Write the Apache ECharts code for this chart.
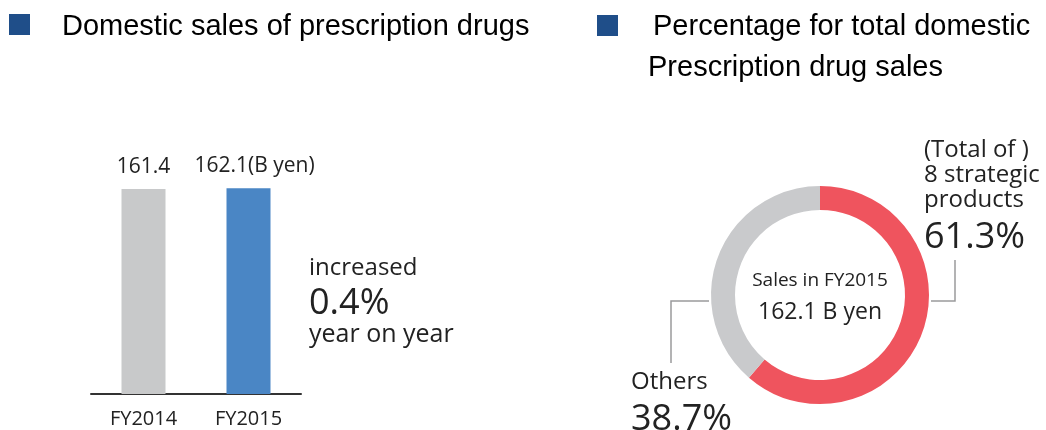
<!DOCTYPE html>
<html>
<head>
<meta charset="utf-8">
<script src="https://cdn.jsdelivr.net/npm/echarts@6/dist/echarts.min.js"></script>
<style>
  html, body {margin: 0; padding: 0; background: #fff;}
  #chart {width: 1046px; height: 430px;}
</style>
</head>
<body>
<div id="chart"></div>
<script>
// bar chart data
const years = ["FY2014", "FY2015"];
const sales = [161.4, 162.1];
const barColors = ["#c8c9ca", "#4a86c5"];
const salesUnit = "(B yen)";

// donut data
const shareNames = ["8 strategic products", "Others"];
const shares = [61.3, 38.7];
const shareColors = ["#ef545e", "#c9cacc"];

const headerFont = "Liberation Sans, Arial, sans-serif";
const bodyFont = "Open Sans, sans-serif";
const textColor = "#222";
const leaderColor = "#9a9a9c";

const growth = ((sales[1] - sales[0]) / sales[0] * 100).toFixed(1);

const pieCenter = [820, 295];
const pieRadius = [85, 109];

const chart = echarts.init(document.getElementById("chart"));

const option = {
  animation: false,
  grid: {left: 91, width: 210, bottom: 36, top: 140},
  xAxis: {
    type: "category",
    data: years,
    axisTick: {show: false},
    axisLine: {lineStyle: {color: "#333", width: 2}},
    axisLabel: {color: textColor, fontFamily: bodyFont, fontSize: 20, margin: 15},
  },
  yAxis: {type: "value", min: 0, max: 200, show: false},
  series: [
    {
      type: "bar",
      barWidth: 44,
      data: sales.map((v, i) => ({value: v, itemStyle: {color: barColors[i]}})),
      label: {
        show: true,
        position: "top",
        distance: 12,
        color: textColor,
        fontFamily: bodyFont,
        fontSize: 21,
        formatter: (p) => p.dataIndex === sales.length - 1 ? p.value + salesUnit : String(p.value),
      },
      labelLayout: (p) => p.dataIndex === sales.length - 1 ? {dx: 6} : {},
    },
    {
      type: "pie",
      center: pieCenter,
      radius: pieRadius,
      startAngle: 90,
      clockwise: true,
      avoidLabelOverlap: false,
      silent: true,
      data: shareNames.map((n, i) => ({value: shares[i], name: n, itemStyle: {color: shareColors[i]}})),
      label: {
        show: true,
        position: "outside",
        color: textColor,
        fontFamily: bodyFont,
        formatter: (p) => {
          if (p.dataIndex === 0) {
            return "{a|(Total of )}\n{a|8 strategic}\n{a|products}\n{b|" + p.value + "%}";
          }
          return "{a|" + p.name + "}\n{b|" + p.value + "%}";
        },
        rich: {
          a: {fontFamily: bodyFont, fontSize: 24, lineHeight: 25, color: textColor},
          b: {fontFamily: bodyFont, fontSize: 36, lineHeight: 50, color: textColor},
        },
      },
      labelLine: {show: true, lineStyle: {color: leaderColor, width: 1.5}},
      labelLayout: (p) => {
        const y = pieCenter[1] + 6;
        if (p.dataIndex === 0) {
          const edge = pieCenter[0] + pieRadius[1] + 2;
          return {
            x: 924, y: 138, align: "left", verticalAlign: "top",
            labelLinePoints: [[edge, y], [955, y], [955, 260]],
          };
        }
        const edge = pieCenter[0] - pieRadius[1] - 2;
        return {
          x: 631, y: 370, align: "left", verticalAlign: "top",
          labelLinePoints: [[edge, y], [671, y], [671, 363]],
        };
      },
    },
  ],
  graphic: [
    // headers
    {type: "rect", left: 9, top: 14, shape: {width: 21, height: 21}, style: {fill: "#1f4e89"}},
    {type: "text", left: 62, top: 12, style: {text: "Domestic sales of prescription drugs", font: "29px " + headerFont, fill: "#000"}},
    {type: "rect", left: 597, top: 15, shape: {width: 21, height: 21}, style: {fill: "#1f4e89"}},
    {type: "text", left: 653, top: 12, style: {text: "Percentage for total domestic", font: "29px " + headerFont, fill: "#000"}},
    {type: "text", left: 648, top: 53, style: {text: "Prescription drug sales", font: "29px " + headerFont, fill: "#000"}},
    // growth note
    {type: "text", left: 309, top: 256, style: {text: "increased", font: "24px " + bodyFont, fill: textColor}},
    {type: "text", left: 309, top: 286, style: {text: growth + "%", font: "36px " + bodyFont, fill: textColor}},
    {type: "text", left: 309, top: 322, style: {text: "year on year", font: "25px " + bodyFont, fill: textColor}},
    // donut centre
    {type: "text", x: pieCenter[0], y: 281, style: {text: "Sales in FY2015", font: "19px " + bodyFont, fill: textColor, align: "center", verticalAlign: "middle"}},
    {type: "text", x: pieCenter[0], y: 312, style: {text: sales[1] + " B yen", font: "23px " + bodyFont, fill: textColor, align: "center", verticalAlign: "middle"}},
  ],
};

chart.setOption(option);
</script>
</body>
</html>
